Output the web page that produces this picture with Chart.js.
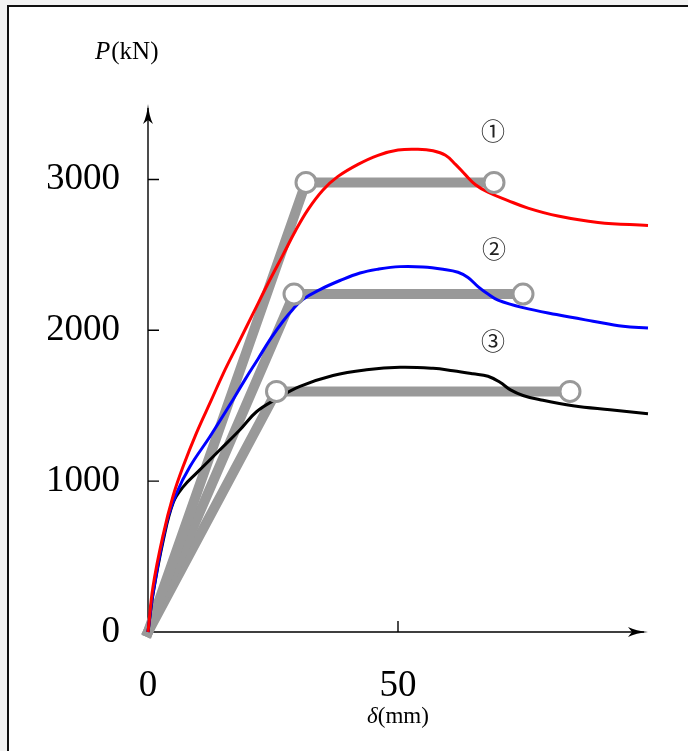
<!DOCTYPE html>
<html>
<head>
<meta charset="utf-8">
<script src="https://cdn.jsdelivr.net/npm/chart.js@4.4.1/dist/chart.umd.min.js"></script>
<style>
  html, body { margin: 0; padding: 0; background: #f3f3f3; overflow: hidden; }
  #frame {
    position: absolute; left: 7px; top: 5px; width: 720px; height: 800px;
    background: #fff; border: 2px solid #111;
  }
  #chart { position: absolute; left: 0; top: 0; }
</style>
</head>
<body>
<div id="frame"></div>
<canvas id="chart" width="688" height="751"></canvas>
<script>
// ticks
const xTicks = [0, 50];
const yTicks = [0, 1000, 2000, 3000];

// test curves, delta (mm) / P (kN)
const redX = [0, 1, 3, 5, 7, 9.7, 12.7, 15, 18, 21, 24, 27, 29.5, 32, 35, 38, 42, 46, 50, 54, 57, 59.5, 61.5, 63.5, 65.5, 68, 72, 76, 82, 90, 100];
const redY = [0, 300, 640, 900, 1095, 1320, 1540, 1710, 1910, 2110, 2310, 2500, 2660, 2800, 2930, 3020, 3100, 3160, 3195, 3200, 3190, 3160, 3100, 3030, 2965, 2915, 2860, 2810, 2757, 2715, 2695];

const blueX = [0, 1, 3.7, 5.7, 8.4, 12.4, 17, 19.4, 22, 24.4, 27, 29, 31, 34.4, 38.4, 42.4, 46, 50.4, 55, 59, 62, 64, 66, 68, 70, 75, 81.7, 89, 95, 100];
const blueY = [0, 257, 721, 920, 1097, 1296, 1540, 1673, 1810, 1938, 2060, 2140, 2205, 2270, 2330, 2380, 2405, 2422, 2420, 2405, 2385, 2350, 2290, 2240, 2200, 2150, 2104, 2060, 2026, 2015];

const blackX = [0, 1, 3.07, 5.07, 7.07, 9.7, 14.4, 18.4, 21.7, 25.7, 30.4, 37, 43.7, 50.4, 57, 61, 65, 68, 70.4, 72.5, 75, 78.4, 85, 92.4, 100];
const blackY = [0, 250, 611, 860, 964, 1053, 1208, 1341, 1460, 1545, 1628, 1700, 1738, 1755, 1748, 1732, 1712, 1695, 1655, 1605, 1568, 1540, 1500, 1473, 1447];

// bilinear models: yield point and ultimate point
const yieldX = [31.6, 29.2, 25.7];
const yieldY = [2980, 2240, 1595];
const ultX = [69.2, 75, 84.4];
const ultY = [2980, 2240, 1595];

const marks = ["\u2460", "\u2461", "\u2462"];
const markX = [69, 69.2, 69];
const markY = [3325, 2542, 1931];

const gray = '#999999';

const pts = (xs, ys) => xs.map((x, i) => ({ x: x, y: ys[i] }));

const curve = (xs, ys, color) => ({
  data: pts(xs, ys),
  showLine: true,
  borderColor: color,
  borderWidth: 3,
  pointRadius: 0,
  tension: 0.4,
  clip: false,
  order: 1
});

let datasets = [];

// circles on top
datasets.push({
  data: pts(yieldX.concat(ultX), yieldY.concat(ultY)),
  showLine: false,
  pointRadius: 10,
  pointBackgroundColor: '#fff',
  pointBorderColor: gray,
  pointBorderWidth: 3,
  clip: false,
  order: 0
});

datasets.push(curve(redX, redY, '#ff0000'));
datasets.push(curve(blueX, blueY, '#0000ff'));
datasets.push(curve(blackX, blackY, '#000000'));

for (let i = 0; i < yieldX.length; i++) {
  datasets.push({
    data: pts([0, yieldX[i], ultX[i]], [0, yieldY[i], ultY[i]]),
    showLine: true,
    borderColor: gray,
    borderWidth: 10,
    borderCapStyle: 'square',
    borderJoinStyle: 'round',
    pointRadius: 0,
    tension: 0,
    clip: false,
    order: 2
  });
}

function arrow(ctx, x, y, dir) {
  // LaTeX-ish arrow head, dir: 'up' or 'right'
  ctx.save();
  ctx.translate(x, y);
  if (dir === 'right') ctx.rotate(Math.PI / 2);
  ctx.beginPath();
  ctx.moveTo(0, 0);
  ctx.quadraticCurveTo(-1, 12, -5, 20);
  ctx.quadraticCurveTo(0, 16, 0, 16);
  ctx.quadraticCurveTo(0, 16, 5, 20);
  ctx.quadraticCurveTo(1, 12, 0, 0);
  ctx.fill();
  ctx.restore();
}

const axesPlugin = {
  id: 'axes',
  beforeDatasetsDraw(chart) {
    const ctx = chart.ctx;
    const xs = chart.scales.x, ys = chart.scales.y;
    const x0 = xs.getPixelForValue(0), y0 = ys.getPixelForValue(0);
    ctx.save();
    ctx.strokeStyle = '#000';
    ctx.fillStyle = '#000';
    ctx.lineWidth = 1.4;
    ctx.beginPath();
    ctx.moveTo(x0, y0);
    ctx.lineTo(x0, chart.chartArea.top + 4);
    ctx.moveTo(x0, y0);
    ctx.lineTo(chart.chartArea.right - 4, y0);
    yTicks.forEach(v => {
      if (v === 0) return;
      const py = ys.getPixelForValue(v);
      ctx.moveTo(x0, py);
      ctx.lineTo(x0 + 11, py);
    });
    xTicks.forEach(v => {
      if (v === 0) return;
      const px = xs.getPixelForValue(v);
      ctx.moveTo(px, y0);
      ctx.lineTo(px, y0 - 11);
    });
    ctx.stroke();
    arrow(ctx, x0, chart.chartArea.top, 'up');
    arrow(ctx, chart.chartArea.right, y0, 'right');
    ctx.restore();
  },
  afterDatasetsDraw(chart) {
    const ctx = chart.ctx;
    const xs = chart.scales.x, ys = chart.scales.y;
    ctx.save();
    ctx.fillStyle = '#000';
    ctx.textBaseline = 'middle';

    // axis titles
    ctx.textAlign = 'left';
    ctx.font = 'italic 25px "Liberation Serif"';
    let tx = 95;
    ctx.fillText('P', tx, 52);
    tx += ctx.measureText('P').width + 1;
    ctx.font = '25px "Liberation Serif"';
    ctx.fillText('(kN)', tx, 52);

    const cx = xs.getPixelForValue(50);
    ctx.font = 'italic 23px "Liberation Serif"';
    const w1 = ctx.measureText('\u03b4').width;
    ctx.font = '23px "Liberation Serif"';
    const w2 = ctx.measureText('(mm)').width;
    let sx = cx - (w1 + w2) / 2;
    ctx.font = 'italic 23px "Liberation Serif"';
    ctx.fillText('\u03b4', sx, 717);
    ctx.font = '23px "Liberation Serif"';
    ctx.fillText('(mm)', sx + w1, 717);

    // specimen numbers
    ctx.textAlign = 'center';
    ctx.font = '24px "Noto Sans CJK JP"';
    ctx.fillStyle = '#222';
    marks.forEach((m, i) => {
      ctx.fillText(m, xs.getPixelForValue(markX[i]), ys.getPixelForValue(markY[i]));
    });
    ctx.restore();
  }
};

const tickFont = { family: 'Liberation Serif', size: 37 };

new Chart(document.getElementById('chart'), {
  type: 'scatter',
  data: { datasets: datasets },
  options: {
    responsive: false,
    animation: false,
    layout: { padding: { left: 48, right: 40, top: 104, bottom: 0 } },
    plugins: { legend: { display: false }, tooltip: { enabled: false } },
    scales: {
      x: {
        type: 'linear', min: 0, max: 100,
        grid: { display: false, drawTicks: false },
        border: { display: false },
        afterBuildTicks: s => { s.ticks = xTicks.map(v => ({ value: v })); },
        afterFit: s => { s.height = 119; },
        ticks: { color: '#000', font: tickFont, padding: 32, maxRotation: 0, callback: v => String(v) }
      },
      y: {
        type: 'linear', min: 0, max: 3500,
        grid: { display: false, drawTicks: false },
        border: { display: false },
        afterBuildTicks: s => { s.ticks = yTicks.map(v => ({ value: v })); },
        afterFit: s => { s.width = 100; },
        ticks: { color: '#000', font: tickFont, padding: 28, callback: v => String(v) }
      }
    }
  },
  plugins: [axesPlugin]
});
</script>
</body>
</html>
